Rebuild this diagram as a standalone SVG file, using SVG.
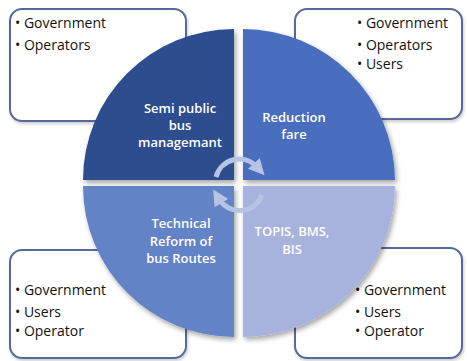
<svg xmlns="http://www.w3.org/2000/svg" width="467" height="361" viewBox="0 0 467 361">
<style>
.box{fill:#ffffff;stroke:#55699c;stroke-width:2}
.lst{font-family:"Open Sans","Liberation Sans",sans-serif;font-size:14px;fill:#111111}
.lbl{font-family:"Open Sans","Liberation Sans",sans-serif;font-size:13px;font-weight:600;fill:#ffffff;text-anchor:middle}
.arc{fill:none;stroke:#b7c3e3;stroke-width:5;stroke-linecap:butt}
</style>
<defs>
<filter id="sh" x="-10%" y="-10%" width="125%" height="125%">
<feDropShadow dx="2" dy="3" stdDeviation="2.5" flood-color="#000000" flood-opacity="0.35"/>
</filter>
<filter id="bsh" x="-5%" y="-5%" width="115%" height="115%">
<feDropShadow dx="1" dy="2" stdDeviation="1.5" flood-color="#000000" flood-opacity="0.2"/>
</filter>
<marker id="ah" viewBox="0 0 10 10" refX="3" refY="5" markerWidth="3.2" markerHeight="3.2" orient="auto">
<path d="M0,0 L10,5 L0,10 Z" fill="#b7c3e3"/>
</marker>
</defs>

<g id="box-tl"><rect class="box" x="10" y="9" width="176" height="112" rx="12" filter="url(#bsh)"/>
<text class="lst" x="15" y="28">• Government</text>
<text class="lst" x="15" y="50">• Operators</text></g>

<g id="box-tr"><rect class="box" x="295" y="9" width="167" height="110" rx="12" filter="url(#bsh)"/>
<text class="lst" x="357" y="28">• Government</text>
<text class="lst" x="357" y="50">• Operators</text>
<text class="lst" x="357" y="69">• Users</text></g>

<g id="box-bl"><rect class="box" x="10" y="250" width="176" height="108" rx="12" filter="url(#bsh)"/>
<text class="lst" x="15" y="295">• Government</text>
<text class="lst" x="15" y="317">• Users</text>
<text class="lst" x="15" y="336">• Operator</text></g>

<g id="box-br"><rect class="box" x="295" y="248" width="167" height="110" rx="12" filter="url(#bsh)"/>
<text class="lst" x="355" y="295">• Government</text>
<text class="lst" x="355" y="317">• Users</text>
<text class="lst" x="355" y="336">• Operator</text></g>

<g id="q-tl"><path d="M234,180 L83,180 A151,151 0 0 1 234,29 Z" fill="#2d4d8f" filter="url(#sh)"/>
<text class="lbl" x="180" y="113">Semi public</text>
<text class="lbl" x="180" y="130">bus</text>
<text class="lbl" x="180" y="147">managemant</text></g>

<g id="q-tr"><path d="M243,180 L243,29 A152,152 0 0 1 395,180 Z" fill="#4a6ebd" filter="url(#sh)"/>
<text class="lbl" x="294" y="122">Reduction</text>
<text class="lbl" x="294" y="139">fare</text></g>

<g id="q-bl"><path d="M234,186 L234,337 A151,151 0 0 1 83,186 Z" fill="#6483c7" filter="url(#sh)"/>
<text class="lbl" x="181" y="228">Technical</text>
<text class="lbl" x="181" y="246">Reform of</text>
<text class="lbl" x="181" y="263">bus Routes</text></g>

<g id="q-br"><path d="M243,186 L395,186 A152,152 0 0 1 243,337 Z" fill="#a7b3dc" filter="url(#sh)"/>
<text class="lbl" x="292" y="236">TOPIS, BMS,</text>
<text class="lbl" x="292" y="254">BIS</text></g>

<g id="connectors">
<path class="arc" d="M216,177 A24,24 0 0 1 257,167" marker-end="url(#ah)"/>
<path class="arc" d="M262,195 A24,24 0 0 1 219,199" marker-end="url(#ah)"/>
</g>
</svg>
